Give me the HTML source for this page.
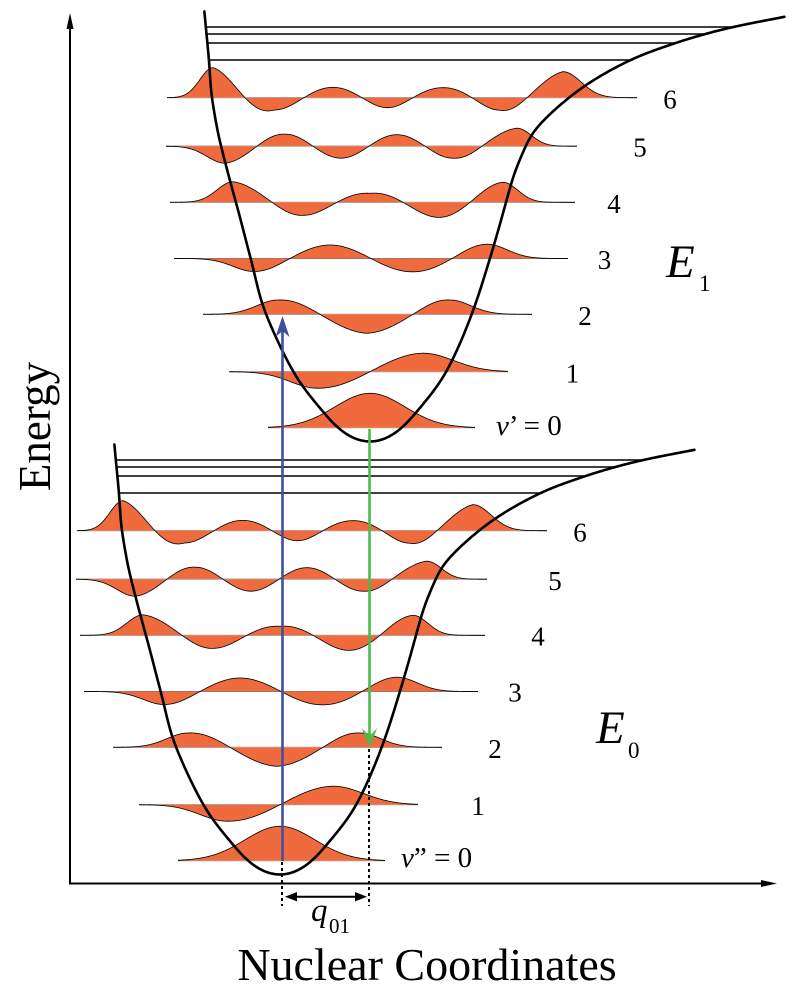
<!DOCTYPE html>
<html>
<head>
<meta charset="utf-8">
<style>
html,body{margin:0;padding:0;background:#fff;}
svg{display:block;}
text{font-family:"Liberation Serif","Times New Roman",serif;fill:#000;}
</style>
</head>
<body>
<svg id="svg" xmlns="http://www.w3.org/2000/svg" width="800" height="989" viewBox="0 0 800 989">
<rect x="0" y="0" width="800" height="989" fill="#fff"/>
<g id="upper"></g>
<g id="lower" transform="translate(-90,433)"></g>

<!-- axes -->
<line x1="70" y1="884" x2="70" y2="27" stroke="#000" stroke-width="2"/>
<polygon points="70,13 66.5,29 73.5,29" fill="#000"/>
<line x1="69" y1="883.5" x2="762" y2="883.5" stroke="#000" stroke-width="2"/>
<polygon points="777,883.5 761,880 761,887" fill="#000"/>

<!-- blue absorption arrow -->
<line x1="282.5" y1="861" x2="282.5" y2="330" stroke="#3f4fa0" stroke-width="2.6"/>
<path d="M282.5,316 L275.5,337 L282.5,331 L289.5,337 Z" fill="#3f4fa0"/>

<!-- green emission arrow -->
<line x1="369.5" y1="429" x2="369.5" y2="738" stroke="#4cbb4c" stroke-width="2.6"/>
<path d="M369.5,747 L361.7,728 L369.5,736 L377.3,728 Z" fill="#4cbb4c"/>

<!-- dotted guide lines -->
<line x1="282" y1="862" x2="282" y2="906" stroke="#000" stroke-width="2" stroke-dasharray="3,3"/>
<line x1="369" y1="749" x2="369" y2="906" stroke="#000" stroke-width="2" stroke-dasharray="3,3"/>

<!-- q01 double arrow -->
<line x1="292" y1="896.7" x2="360" y2="896.7" stroke="#000" stroke-width="2"/>
<polygon points="285,896.7 297,892 297,901.4" fill="#000"/>
<polygon points="367,896.7 355,892 355,901.4" fill="#000"/>
<text x="311" y="921" font-size="33" font-style="italic">q</text>
<text x="329" y="933" font-size="21">01</text>

<!-- axis labels -->
<text transform="translate(50,426.5) rotate(-90)" text-anchor="middle" font-size="45">Energy</text>
<text x="427" y="980" text-anchor="middle" font-size="46">Nuclear Coordinates</text>

<!-- level labels -->
<g font-size="27" text-anchor="middle">
<text x="670" y="108.5">6</text>
<text x="640" y="156.5">5</text>
<text x="614" y="213">4</text>
<text x="604.5" y="269">3</text>
<text x="585" y="325">2</text>
<text x="572.5" y="382.5">1</text>
<text x="580" y="541.5">6</text>
<text x="555" y="590">5</text>
<text x="538" y="645.5">4</text>
<text x="515" y="701.5">3</text>
<text x="495" y="758">2</text>
<text x="478" y="815">1</text>
</g>
<text x="496" y="435" font-size="29"><tspan font-style="italic">v</tspan>’ = 0</text>
<text x="401" y="867" font-size="29"><tspan font-style="italic">v</tspan>” = 0</text>

<!-- state labels -->
<text x="666" y="277" font-size="47" font-style="italic">E</text>
<text x="699" y="291" font-size="23">1</text>
<text x="596" y="743" font-size="47" font-style="italic">E</text>
<text x="628" y="758" font-size="23">0</text>
</svg>

<script>
(function(){
var NS="http://www.w3.org/2000/svg";
var up=document.getElementById('upper');
function el(tag,attrs){var e=document.createElementNS(NS,tag);for(var k in attrs)e.setAttribute(k,attrs[k]);up.appendChild(e);return e;}

function mono(xs,ys){
  var n=xs.length,d=[],m=[];
  for(var i=0;i<n-1;i++)d.push((ys[i+1]-ys[i])/(xs[i+1]-xs[i]));
  m[0]=d[0];m[n-1]=d[n-2];
  for(var i=1;i<n-1;i++){m[i]=(d[i-1]*d[i]<=0)?0:2/(1/d[i-1]+1/d[i]);}
  return function(x){
    var i=0;while(i<n-2&&x>xs[i+1])i++;
    var h=xs[i+1]-xs[i],t=(x-xs[i])/h,t2=t*t,t3=t2*t;
    return (2*t3-3*t2+1)*ys[i]+(t3-2*t2+t)*h*m[i]+(-2*t3+3*t2)*ys[i+1]+(t3-t2)*h*m[i+1];
  };
}
function lin(xs,ys){
  return function(x){
    if(x<=xs[0])return ys[0];
    for(var i=0;i<xs.length-1;i++){
      if(x<=xs[i+1]){var t=(x-xs[i])/(xs[i+1]-xs[i]);return ys[i]+t*(ys[i+1]-ys[i]);}
    }
    return ys[ys.length-1];
  };
}

var levels=[
 {y:427.7,x0:268,x1:475,g:{c:370,A:34.4,s:35}},
 {y:371.7,x0:229,x1:508,nodes:[370],pL:317,pR:423,amps:[-16.5,18.5],kL:2,kR:1.5},
 {y:314.3,x0:203,x1:532,nodes:[320,413],pL:278,pR:450,amps:[14.3,-19,14.3],kL:2,kR:1.6},
 {y:258.5,x0:174,x1:568,nodes:[290,371,452],pL:254,pR:487,amps:[-13,13.5,-13.3,14.3],kL:1.5,kR:1.5},
 {y:202.3,x0:170,x1:575,nodes:[272,337,403,470],pL:233,pR:503,amps:[20.5,-13,9,-15,20],kL:3,kR:2.5},
 {y:146.2,x0:166,x1:577,nodes:[257,313,369,425,482],pL:225,pR:517,amps:[-17,12,-12,11.5,-12,18],kL:1.6,kR:3},
 {y:97.7,x0:167,x1:637,nodes:[245,304,362,413,472,527],pL:213,pR:563,amps:[30,-12.3,10.3,-10,10,-12.5,26],kL:3,kR:2}
];

levels.forEach(function(L){
  if(!L.g){
    var m=L.nodes.length,PI=Math.PI;
    var px=[L.pL].concat(L.nodes,[L.pR]);
    var py=[0.5*PI];for(var i=0;i<m;i++)py.push((i+1)*PI);py.push((m+0.5)*PI);
    L.ph=mono(px,py);
    var ex=[L.pL];for(var i=0;i<m-1;i++)ex.push((L.nodes[i]+L.nodes[i+1])/2);ex.push(L.pR);
    L.env=lin(ex,L.amps.map(Math.abs));
  }
});

function val(L,x){
  if(L.g)return L.g.A*Math.exp(-Math.pow(x-L.g.c,2)/(2*L.g.s*L.g.s));
  var m=L.nodes.length,t;
  if(x<L.pL){t=(L.pL-x)/(L.nodes[0]-L.pL);return L.amps[0]*Math.exp(-L.kL*t*t);}
  if(x>L.pR){t=(x-L.pR)/(L.pR-L.nodes[m-1]);return L.amps[m]*Math.exp(-L.kR*t*t);}
  return Math.sign(L.amps[0])*L.env(x)*Math.sin(L.ph(x));
}

// dissociation-region horizontal lines
[[27,206,731],[34,207,708],[43,208,675],[60,209,633]].forEach(function(a){
  el('line',{x1:a[1],y1:a[0],x2:a[2],y2:a[0],stroke:'#000','stroke-width':1.4});
});

levels.forEach(function(L){
  var pts=[];
  for(var x=L.x0;x<=L.x1+0.001;x+=0.5){
    pts.push(x.toFixed(1)+','+(L.y-val(L,x)).toFixed(2));
  }
  el('line',{x1:L.x0,y1:L.y,x2:L.x1,y2:L.y,stroke:'#333','stroke-width':0.9});
  el('path',{d:'M'+pts.join(' L')+' L'+L.x1+','+L.y+' L'+L.x0+','+L.y+' Z',fill:'#ef6a3c',stroke:'none'});
  el('line',{x1:L.x0+12,y1:L.y,x2:L.x1-12,y2:L.y,stroke:'#fbd9cc','stroke-width':0.6,opacity:0.5});
  el('path',{d:'M'+pts.join(' L'),fill:'none',stroke:'#000','stroke-width':0.8});
});

// potential curve: parametric in s, y = ymin - s^2, x = xc + s*R(s)
var xc=370,ymin=442;
var rL=mono([0,5,8.4,11.3,13.6,15.5,17.2,18.55,19.54,20.9],
            [8.5,8.5,9.15,9.2,8.8,8.66,8.66,8.52,8.24,7.95]);
var rR=mono([0,5,8.4,11.3,13.6,16.0,17.46,18.08,18.57,18.84,19.54,19.97,20.2,20.37,20.62],
            [8.5,8.45,9.1,9.0,8.85,8.78,9.16,9.9,10.75,11.3,13.3,15.27,16.6,17.8,20.1]);
var raw=[];
for(var s=-20.75;s<=20.62+1e-9;s+=0.01){
  var a=Math.abs(s),x;
  if(s<0)x=xc-a*rL(a);else x=xc+a*rR(a);
  raw.push([x,ymin-s*s]);
}
// resample by arc length (1px)
var rs=[raw[0]],acc=0;
for(var i=1;i<raw.length;i++){
  var dx=raw[i][0]-raw[i-1][0],dy=raw[i][1]-raw[i-1][1];
  acc+=Math.sqrt(dx*dx+dy*dy);
  if(acc>=1){rs.push(raw[i]);acc=0;}
}
rs.push(raw[raw.length-1]);
// moving-average smoothing
var W=10,sm=[];
for(var i=0;i<rs.length;i++){
  var w=Math.min(W,i,rs.length-1-i),sx=0,sy=0,c=0;
  for(var j=i-w;j<=i+w;j++){sx+=rs[j][0];sy+=rs[j][1];c++;}
  sm.push((sx/c).toFixed(2)+','+(sy/c).toFixed(2));
}
el('path',{d:'M'+sm.join(' L'),fill:'none',stroke:'#000','stroke-width':2.6,'stroke-linejoin':'round','stroke-linecap':'round'});

// lower copy
var low=document.getElementById('lower');
for(var i=0;i<up.childNodes.length;i++){low.appendChild(up.childNodes[i].cloneNode(true));}
})();
</script>
</body>
</html>
